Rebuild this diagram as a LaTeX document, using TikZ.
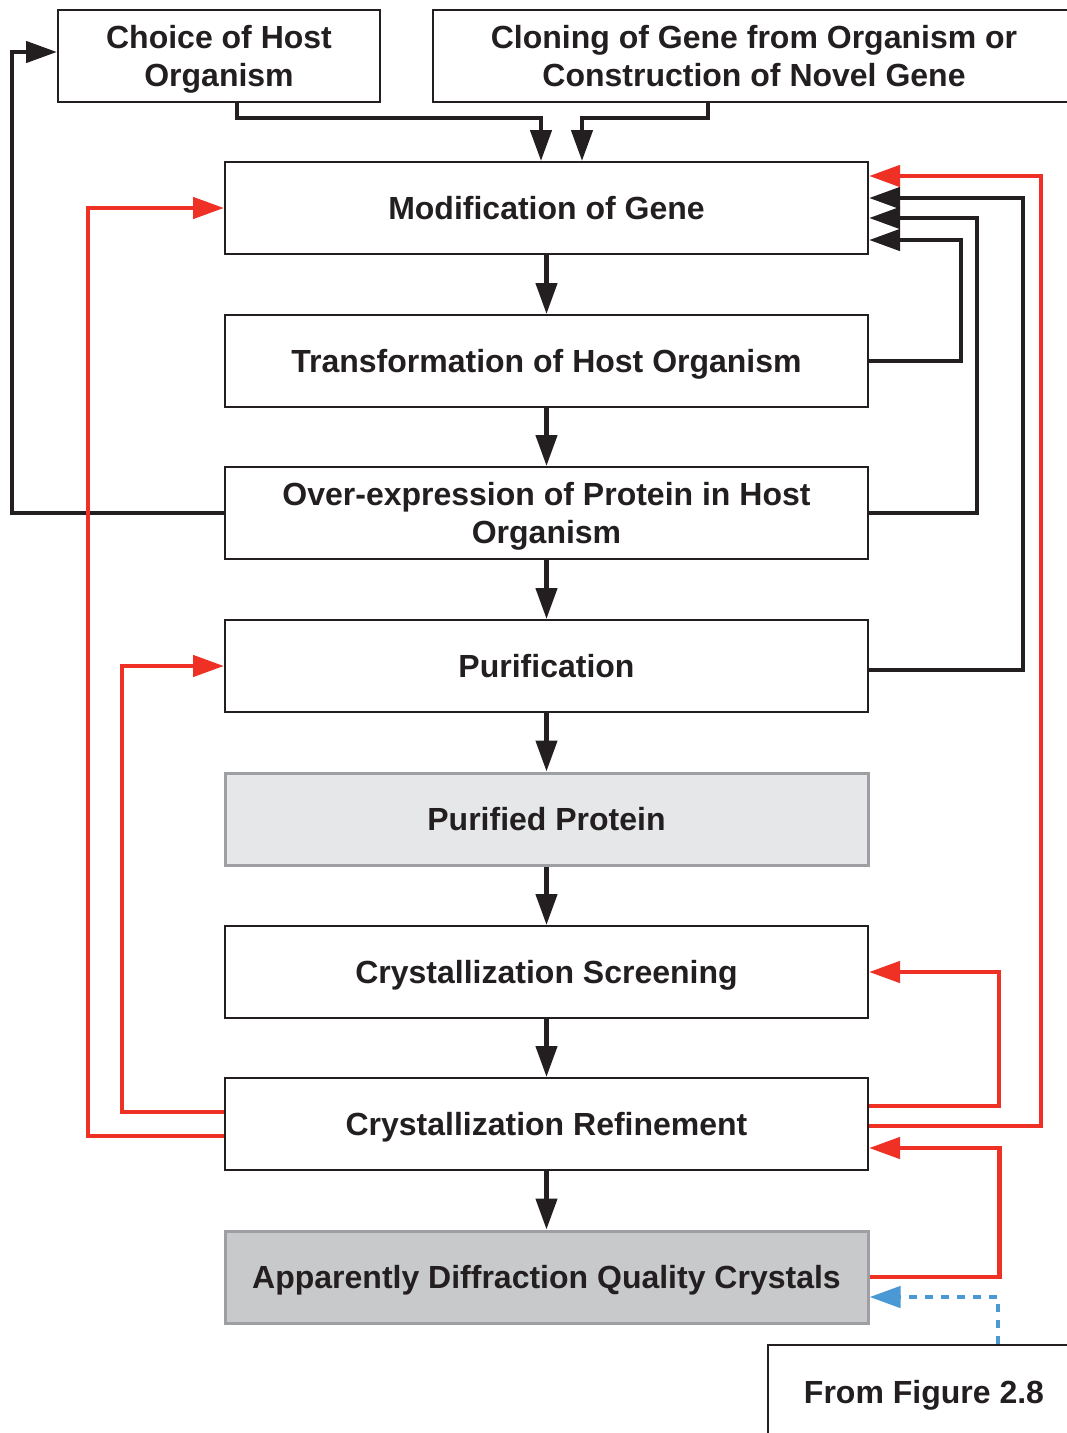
\documentclass[tikz,border=0pt]{standalone}
\usepackage{fontspec}
\setmainfont{Liberation Sans}
\usetikzlibrary{arrows.meta,calc}
\definecolor{ink}{HTML}{231F20}
\definecolor{myred}{HTML}{EE3124}
\definecolor{myblue}{HTML}{4A98D4}
\definecolor{lgray}{HTML}{E6E7E8}
\definecolor{mgray}{HTML}{C8C9CB}
\definecolor{bgray}{HTML}{9D9FA2}
\tikzset{
  box/.style={draw=ink, line width=2pt, minimum width=643pt, minimum height=92pt, inner sep=0pt,
    text depth=0pt, align=center, text=ink, font=\bfseries\fontsize{32}{37.5}\selectfont},
  graybox/.style={box, draw=bgray, line width=3pt},
  conn/.style={draw=ink, line width=4.5pt, -{Triangle[length=31pt,width=21pt]}},
  redconn/.style={conn, draw=myred, -{Triangle[length=31pt,width=21pt,fill=myred]}},
  blueconn/.style={draw=myblue, line width=4.5pt, dash pattern=on 8pt off 8pt, -{Triangle[length=31pt,width=21pt,fill=myblue]}},
}
\begin{document}
\begin{tikzpicture}[x=1pt,y=-1pt]
\useasboundingbox (0,0) rectangle (1067,1433);
% top boxes
\node[box, minimum width=322pt] (choice) at (219,56) {Choice of Host\\Organism};
\node[box, minimum width=642pt] (clone) at (754,56) {Cloning of Gene from Organism or\\Construction of Novel Gene};
% main column
\node[box] (mod) at (546.5,208) {Modification of Gene};
\node[box] (trans) at (546.5,361) {Transformation of Host Organism};
\node[box] (over) at (546.5,513) {Over-expression of Protein in Host\\Organism};
\node[box] (pur) at (546.5,666) {Purification};
\node[graybox, fill=lgray] (pp) at (546.5,819) {Purified Protein};
\node[box] (scr) at (546.5,972) {Crystallization Screening};
\node[box] (ref) at (546.5,1124) {Crystallization Refinement};
\node[graybox, fill=mgray] (app) at (546.5,1277) {Apparently Diffraction Quality Crystals};
% from figure box (cut off at page edge)
\node[box, minimum width=313pt, minimum height=101pt, anchor=north west] (fig) at (767,1344) {};
\node[text=ink, text depth=0pt, font=\bfseries\fontsize{32}{37.5}\selectfont] (figtxt) at (924,1392) {From Figure 2.8};
\coordinate (figtap) at (998,1344);
% top connectors
\draw[conn] ([xshift=18pt]choice.south) -- ++(0,15) -| ([xshift=-5.5pt]mod.north);
\draw[conn] ([xshift=-46pt]clone.south) -- ++(0,15) -| ([xshift=35.5pt]mod.north);
% vertical chain
\draw[conn] (mod.south) -- (trans.north);
\draw[conn] (trans.south) -- (over.north);
\draw[conn] (over.south) -- (pur.north);
\draw[conn] (pur.south) -- (pp.north);
\draw[conn] (pp.south) -- (scr.north);
\draw[conn] (scr.south) -- (ref.north);
\draw[conn] (ref.south) -- (app.north);
% left black feedback
\draw[conn] (over.west) -- ++(-212,0) |- ([yshift=4pt]choice.west);
% right black feedbacks
\draw[conn] (trans.east) -- ++(92,0) |- ([yshift=-32pt]mod.east);
\draw[conn] (over.east) -- ++(108,0) |- ([yshift=-10pt]mod.east);
\draw[conn] ([yshift=-4pt]pur.east) -- ++(154,0) |- ([yshift=10pt]mod.east);
% red feedbacks
\draw[redconn] ([yshift=-2pt]ref.east) -- ++(172,0) |- ([yshift=32pt]mod.east);
\draw[redconn] ([yshift=-12pt]ref.west) -- ++(-136,0) |- (mod.west);
\draw[redconn] ([yshift=12pt]ref.west) -- ++(-102,0) |- (pur.west);
\draw[redconn] ([yshift=18pt]ref.east) -- ++(130,0) |- (scr.east);
\draw[redconn] (app.east) -- ++(130,0) |- ([yshift=-24pt]ref.east);
% blue dotted
\draw[blueconn] (figtap) |- ([yshift=-20pt]app.east);
\end{tikzpicture}
\end{document}
